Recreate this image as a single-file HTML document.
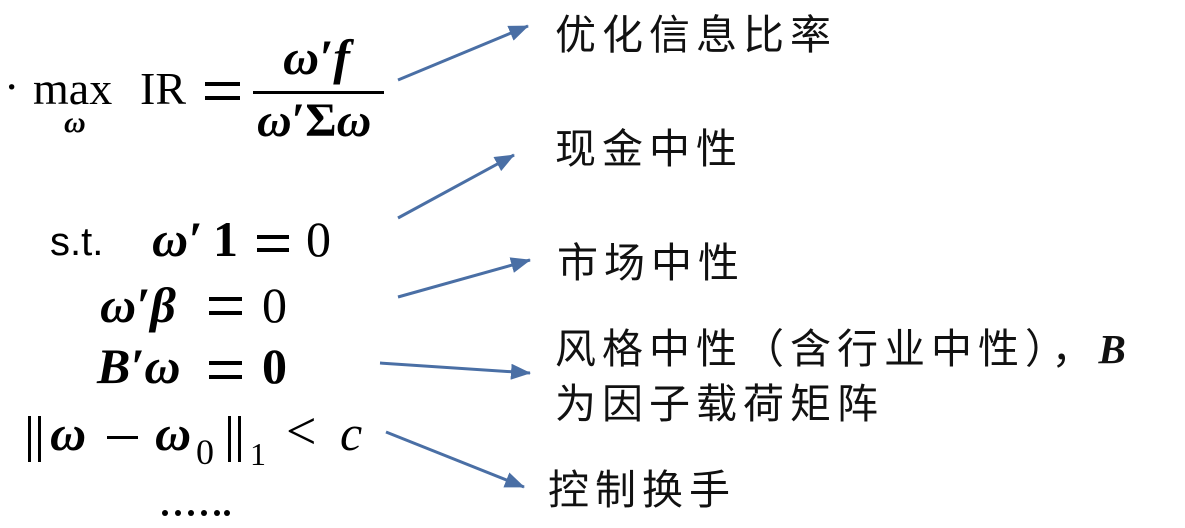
<!DOCTYPE html>
<html><head><meta charset="utf-8"><style>
body{margin:0;width:1185px;height:528px;background:#fff;position:relative;overflow:hidden}
.a{position:absolute;white-space:nowrap;line-height:1}
.s{font-family:"Liberation Serif",serif;color:#000;font-size:50px}
.bi{font-weight:bold;font-style:italic}
.b{font-weight:bold}
.c{font-family:"Liberation Sans","Noto Sans CJK SC",sans-serif;font-size:41px;letter-spacing:6px;color:#111}
.eq{position:absolute;height:4px;background:#000}
.v{position:absolute;width:3px;height:46px;background:#000;top:416px}
.d{position:absolute;width:6px;height:6px;border-radius:50%;background:#000;top:510px}
</style></head><body>
<div class="a s" style="left:4px;top:64px;font-size:46px">·</div>
<div class="a s" style="left:33px;top:66px;font-size:46px">max</div>
<div class="a s bi" style="left:64px;top:108px;font-size:30px">ω</div>
<div class="a s" style="left:140px;top:66px;font-size:46px">IR</div>
<div class="eq" style="left:205px;top:82px;width:35px"></div>
<div class="eq" style="left:205px;top:96px;width:35px"></div>
<div class="a s bi" style="left:283px;top:32px;font-size:50px">ω′f</div>
<div style="position:absolute;left:253px;top:91px;width:131px;height:3px;background:#000"></div>
<div class="a s b" style="left:257px;top:97px;font-size:48px"><i>ω</i>′Σ<i>ω</i></div>

<div class="a" style="left:50px;top:222px;font-size:40px;font-family:'Liberation Sans',sans-serif">s.t.</div>
<div class="a s bi" style="left:152px;top:214px">ω′</div>
<div class="a s b" style="left:213px;top:214px">1</div>
<div class="eq" style="left:257px;top:235px;width:32px"></div>
<div class="eq" style="left:257px;top:248px;width:32px"></div>
<div class="a s" style="left:306px;top:214px">0</div>

<div class="a s bi" style="left:100px;top:280px">ω′β</div>
<div class="eq" style="left:209px;top:297px;width:33px"></div>
<div class="eq" style="left:209px;top:311px;width:33px"></div>
<div class="a s" style="left:262px;top:280px">0</div>

<div class="a s bi" style="left:97px;top:341px">B′ω</div>
<div class="eq" style="left:209px;top:361px;width:33px"></div>
<div class="eq" style="left:209px;top:375px;width:33px"></div>
<div class="a s b" style="left:262px;top:341px">0</div>

<div class="v" style="left:28px"></div><div class="v" style="left:38px"></div>
<div class="a s bi" style="left:50px;top:408px">ω</div>
<div style="position:absolute;left:107px;top:436px;width:31px;height:3px;background:#000"></div>
<div class="a s bi" style="left:155px;top:408px">ω</div>
<div class="a s" style="left:196px;top:434px;font-size:36px">0</div>
<div class="v" style="left:228px"></div><div class="v" style="left:238px"></div>
<div class="a s" style="left:250px;top:438px;font-size:32px">1</div>
<div class="a s" style="left:286px;top:404px;font-size:54px">&lt;</div>
<div class="a s" style="left:340px;top:408px;font-style:italic">c</div>
<div class="d" style="left:162px"></div><div class="d" style="left:175px"></div><div class="d" style="left:188px"></div><div class="d" style="left:201px"></div><div class="d" style="left:214px"></div><div class="d" style="left:224px"></div>

<svg style="position:absolute;left:0;top:0" width="1185" height="528">
<defs><marker id="h" markerWidth="20" markerHeight="16" refX="19" refY="8" orient="auto" markerUnits="userSpaceOnUse"><path d="M0,0L20,8L0,16z" fill="#4a6fa5"/></marker></defs>
<g stroke="#4a6fa5" stroke-width="3" fill="none" marker-end="url(#h)">
<line x1="398" y1="80" x2="528" y2="26"/>
<line x1="398" y1="218" x2="514" y2="155"/>
<line x1="398" y1="297" x2="530" y2="260"/>
<line x1="380" y1="363" x2="530" y2="373"/>
<line x1="386" y1="432" x2="524" y2="487"/>
</g></svg>

<div class="a c" style="left:555px;top:15px">优化信息比率</div>
<div class="a c" style="left:555px;top:129px">现金中性</div>
<div class="a c" style="left:557px;top:243px">市场中性</div>
<div class="a c" style="left:555px;top:329px">风格中性（含行业中性），<b><i style="font-family:'Liberation Serif',serif">B</i></b></div>
<div class="a c" style="left:555px;top:384px">为因子载荷矩阵</div>
<div class="a c" style="left:548px;top:470px">控制换手</div>
</body></html>
